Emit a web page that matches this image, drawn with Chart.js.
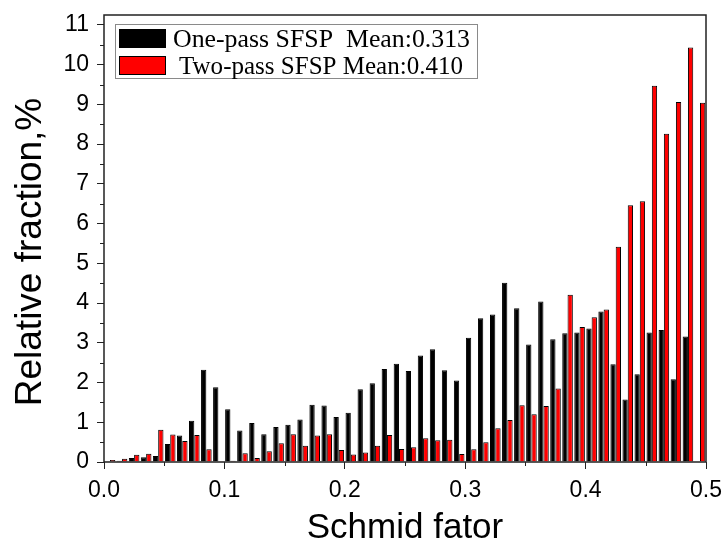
<!DOCTYPE html>
<html><head><meta charset="utf-8">
<script src="https://cdn.jsdelivr.net/npm/chart.js@4.4.1/dist/chart.umd.min.js"></script>
<style>html,body{margin:0;padding:0;background:#fff}</style>
</head><body>
<canvas id="c" width="722" height="549"></canvas>
<script>
// Bin centres of the Schmid factor histogram (bin width 0.01)
const categories = ['0.005','0.015','0.025','0.035','0.045','0.055','0.065','0.075','0.085','0.095',
  '0.105','0.115','0.125','0.135','0.145','0.155','0.165','0.175','0.185','0.195',
  '0.205','0.215','0.225','0.235','0.245','0.255','0.265','0.275','0.285','0.295',
  '0.305','0.315','0.325','0.335','0.345','0.355','0.365','0.375','0.385','0.395',
  '0.405','0.415','0.425','0.435','0.445','0.455','0.465','0.475','0.485','0.495'];
const onePass = [0.02,0.03,0.10,0.12,0.15,0.45,0.67,1.04,2.32,1.88,
  1.33,0.79,0.98,0.70,0.88,0.94,1.07,1.44,1.42,1.13,
  1.24,1.83,1.98,2.34,2.47,2.29,2.68,2.84,2.31,2.05,
  3.13,3.62,3.71,4.51,3.87,2.96,4.04,3.09,3.24,3.26,
  3.36,3.79,2.46,1.57,2.21,3.26,3.32,2.08,3.16,0];
const twoPass = [0.05,0.08,0.18,0.21,0.81,0.69,0.53,0.68,0.32,0.02,
  0.03,0.22,0.10,0.27,0.47,0.70,0.41,0.67,0.70,0.30,
  0.19,0.24,0.41,0.68,0.33,0.37,0.60,0.55,0.56,0.20,
  0.32,0.50,0.85,1.06,1.43,1.20,1.41,1.85,4.21,3.40,
  3.64,3.84,5.42,6.46,6.56,9.47,8.26,9.06,10.43,9.04];
const seriesNames = ['One-pass SFSP  Mean:0.313', 'Two-pass SFSP Mean:0.410'];
const xTickLabels = ['0.0','0.1','0.2','0.3','0.4','0.5'];
const yTickLabels = ['0','1','2','3','4','5','6','7','8','9','10','11'];
const xTitle = 'Schmid fator';
const yTitle = 'Relative fraction,%';

Chart.defaults.font.family = '"Liberation Sans", Arial, sans-serif';
Chart.defaults.color = '#000';

const framePlugin = {
  id: 'frame',
  afterDraw(chart) {
    const {ctx, chartArea: a, scales} = chart;
    ctx.save();
    ctx.strokeStyle = '#222';
    ctx.lineWidth = 1.5;
    ctx.strokeRect(a.left, a.top, a.right - a.left, a.bottom - a.top);
    ctx.lineWidth = 1;
    ctx.beginPath();
    const y = scales.y;
    for (let i = 0; i < 11; i++) {
      const py = Math.round(y.getPixelForValue(i + 0.5)) + 0.5;
      ctx.moveTo(a.left - 4, py); ctx.lineTo(a.left, py);
    }
    const x = scales.x2;
    for (let i = 0; i < 5; i++) {
      const px = Math.round(x.getPixelForValue(0.05 + i * 0.1)) + 0.5;
      ctx.moveTo(px, a.bottom); ctx.lineTo(px, a.bottom + 4);
    }
    ctx.stroke();
    // y-axis title
    ctx.font = '37px "Liberation Sans", Arial, sans-serif';
    ctx.fillStyle = '#000';
    ctx.textAlign = 'center';
    ctx.textBaseline = 'middle';
    ctx.translate(31, 252);
    ctx.rotate(-Math.PI / 2);
    ctx.fillText(yTitle, 0, 0);
    ctx.restore();
  }
};

const legendPlugin = {
  id: 'boxLegend',
  afterDraw(chart) {
    const ctx = chart.ctx;
    ctx.save();
    ctx.fillStyle = '#fff';
    ctx.fillRect(115, 24, 362, 54);
    ctx.strokeStyle = '#8a8a8a';
    ctx.lineWidth = 1;
    ctx.strokeRect(115.5, 24.5, 362, 54);
    const rows = [
      {sw: [119.5, 29.5], text: [173, 470], base: 46.5},
      {sw: [119.5, 56.5], text: [179, 463], base: 73.5}
    ];
    chart.data.datasets.forEach((ds, i) => {
      const r = rows[i];
      ctx.fillStyle = ds.backgroundColor;
      ctx.fillRect(r.sw[0], r.sw[1], 46, 18);
      ctx.strokeStyle = '#000';
      ctx.strokeRect(r.sw[0], r.sw[1], 46, 18);
      ctx.font = '25px "Liberation Serif", "Times New Roman", serif';
      ctx.fillStyle = '#000';
      ctx.textBaseline = 'alphabetic';
      const w = ctx.measureText(ds.label).width;
      const target = r.text[1] - r.text[0];
      ctx.save();
      ctx.translate(r.text[0], r.base);
      ctx.scale(target / w, 1);
      ctx.fillText(ds.label, 0, 0);
      ctx.restore();
    });
    ctx.restore();
  }
};

new Chart(document.getElementById('c'), {
  type: 'bar',
  data: {
    labels: categories,
    datasets: [
      {label: seriesNames[0], data: onePass, backgroundColor: '#000000', borderColor: '#000', borderWidth: 1, xAxisID: 'x', yAxisID: 'y'},
      {label: seriesNames[1], data: twoPass, backgroundColor: '#ff0000', borderColor: '#000', borderWidth: 1, xAxisID: 'x', yAxisID: 'y'}
    ]
  },
  options: {
    responsive: false,
    devicePixelRatio: 1,
    animation: false,
    layout: {padding: {left: 0, right: 16, top: 15, bottom: 0}},
    datasets: {bar: {categoryPercentage: 0.88, barPercentage: 1.0}},
    plugins: {legend: {display: false}, tooltip: {enabled: false}},
    scales: {
      x: {type: 'category', display: false, offset: true},
      x2: {
        type: 'linear', position: 'bottom', min: 0, max: 0.5, offset: false,
        afterFit(s) { s.height = 87; s.paddingLeft = 0; s.paddingRight = 0; s.paddingTop = 0; s.paddingBottom = 0; },
        ticks: {stepSize: 0.1, padding: 8, font: {size: 23}, maxRotation: 0, includeBounds: true,
          callback: (v, i) => xTickLabels[i]},
        grid: {display: true, offset: false, drawOnChartArea: false, drawTicks: true, tickLength: 7, color: '#222'},
        border: {display: false},
        title: {display: true, text: xTitle, font: {size: 35, lineHeight: 1}, padding: {top: 0, bottom: 3}}
      },
      y: {
        type: 'linear', min: 0, max: 11.25,
        afterFit(s) { s.width = 104; s.paddingLeft = 0; s.paddingRight = 0; s.paddingTop = 0; s.paddingBottom = 0; },
        ticks: {stepSize: 1, padding: 8, font: {size: 23}, includeBounds: false, callback: (v) => yTickLabels[Math.round(v)]},
        grid: {display: true, drawOnChartArea: false, drawTicks: true, tickLength: 7, color: '#222'},
        border: {display: false},
        title: {display: false}
      }
    }
  },
  plugins: [framePlugin, legendPlugin]
});
</script>
</body></html>
